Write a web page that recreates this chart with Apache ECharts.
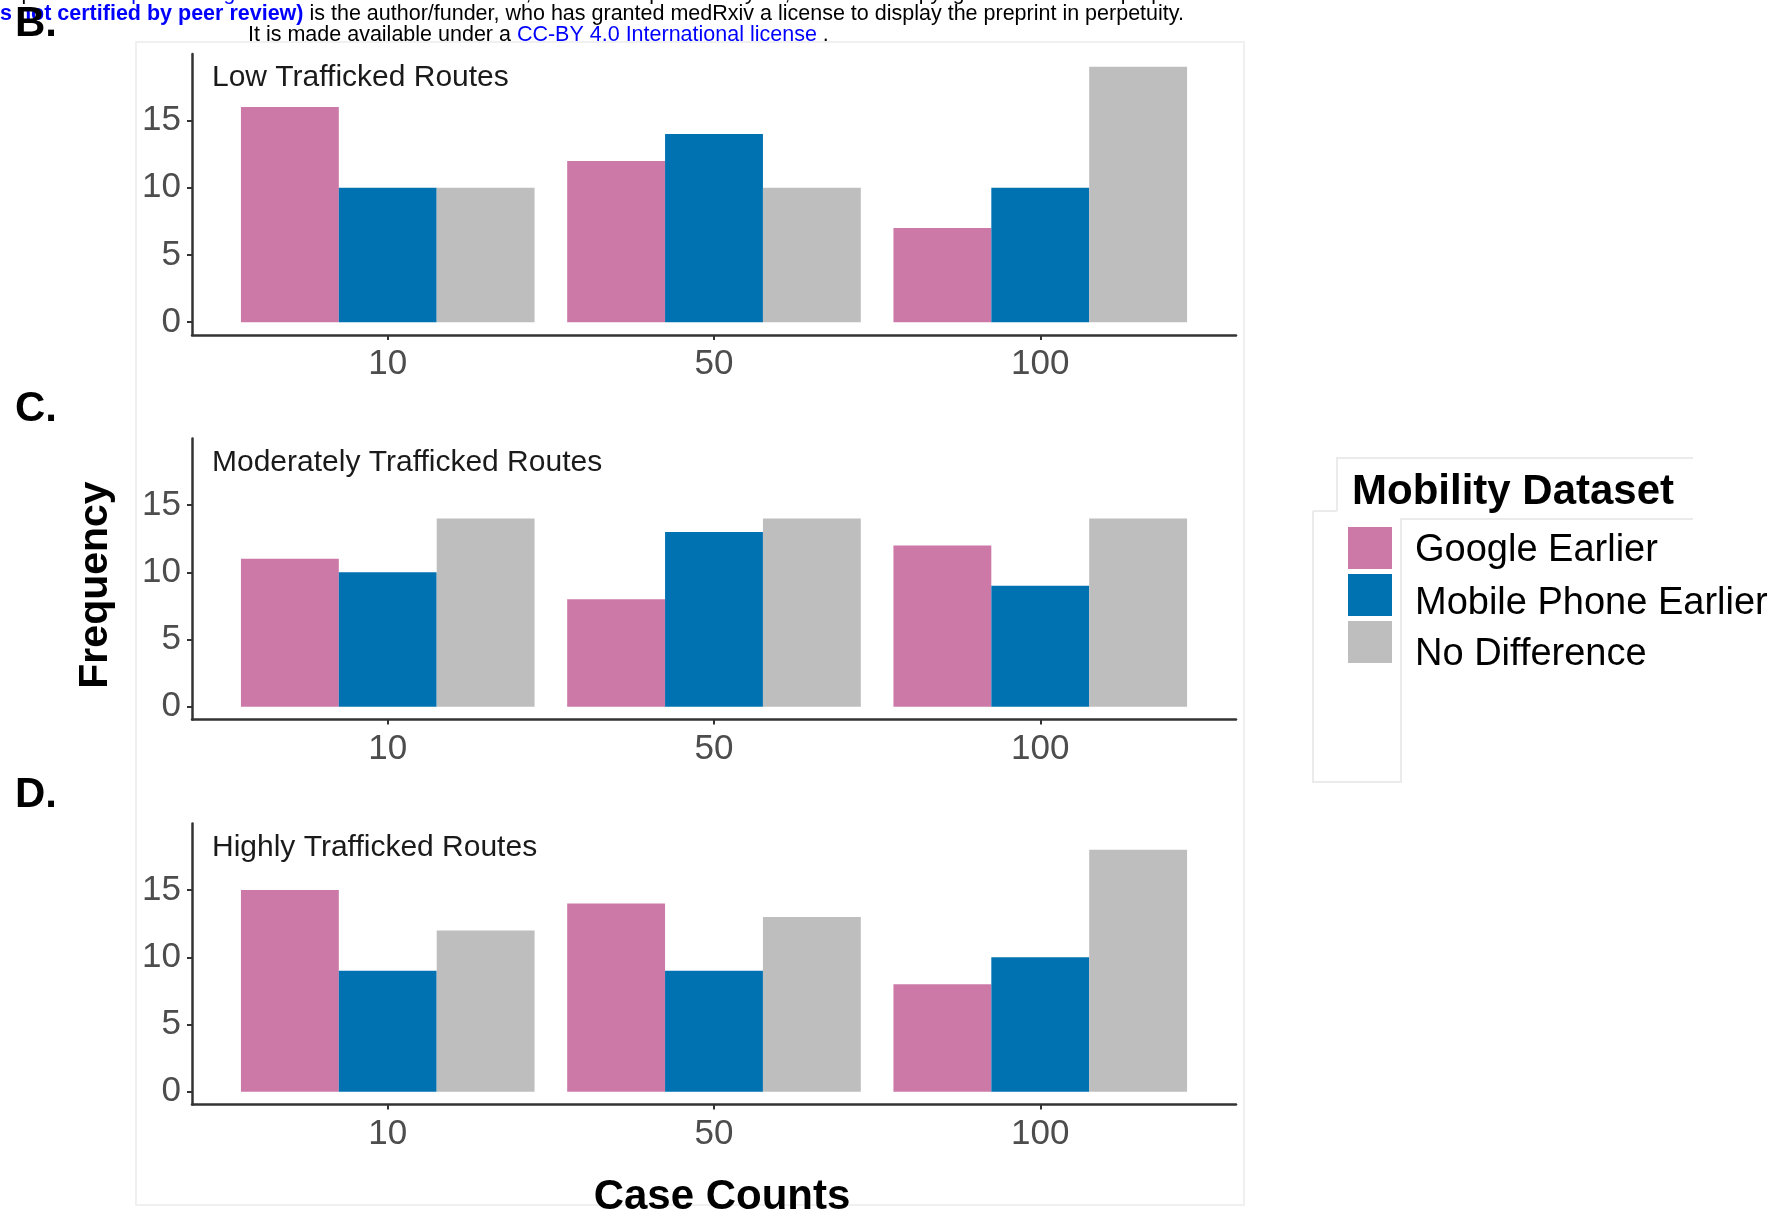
<!DOCTYPE html>
<html>
<head>
<meta charset="utf-8">
<script src="https://cdn.jsdelivr.net/npm/echarts@6/dist/echarts.min.js"></script>
<style>
html,body{margin:0;padding:0;background:#ffffff;}
#chart{width:1787px;height:1218px;}
</style>
</head>
<body>
<div id="chart"></div>
<script>
// ---- data ----
const caseCounts = ['10', '50', '100'];
const datasetNames = ['Google Earlier', 'Mobile Phone Earlier', 'No Difference'];
const panelTitles = ['Low Trafficked Routes', 'Moderately Trafficked Routes', 'Highly Trafficked Routes'];
const panelLetters = ['B.', 'C.', 'D.'];

const lowGoogle = [16, 12, 7];
const lowMobile = [10, 14, 10];
const lowNoDiff = [10, 10, 19];

const modGoogle = [11, 8, 12];
const modMobile = [10, 13, 9];
const modNoDiff = [14, 14, 14];

const highGoogle = [15, 14, 8];
const highMobile = [9, 9, 10];
const highNoDiff = [12, 13, 18];

const yTickValues = [0, 5, 10, 15];

// ---- styling ----
const colors = ['#CC79A7', '#0072B2', '#BEBEBE'];
const FONT = '"Liberation Sans", Arial, Helvetica, sans-serif';
const gridTops = [54, 438.5, 823.5];
const gridLeft = 192, gridWidth = 1044, gridHeight = 281;
const letterY = [24, 409, 795];
const legendKeyTops = [529, 576, 623];
const legendTextShift = [6, 17, 25];

const panels = [
  [lowGoogle, lowMobile, lowNoDiff],
  [modGoogle, modMobile, modNoDiff],
  [highGoogle, highMobile, highNoDiff]
];
const xPos = caseCounts.map((c, i) => i + 1);

const grids = gridTops.map(t => ({ left: gridLeft, top: t, width: gridWidth, height: gridHeight, containLabel: false }));

const xAxes = gridTops.map((t, i) => ({
  type: 'value', gridIndex: i, min: 0.4, max: 3.6,
  splitLine: { show: false },
  axisLine: { show: true, onZero: false, lineStyle: { color: '#333333', width: 2.5 } },
  axisTick: { show: true, length: 5, customValues: xPos, lineStyle: { color: '#333333', width: 2 } },
  axisLabel: {
    customValues: xPos,
    formatter: v => caseCounts[Math.round(v) - 1],
    fontSize: 35, color: '#4d4d4d', margin: 12, fontFamily: FONT
  }
}));

const yAxes = gridTops.map((t, i) => ({
  type: 'value', gridIndex: i, min: -0.95, max: 19.95,
  splitLine: { show: false },
  axisLine: { show: true, onZero: false, lineStyle: { color: '#333333', width: 2.5 } },
  axisTick: { show: true, length: 5, customValues: yTickValues, lineStyle: { color: '#333333', width: 2 } },
  axisLabel: {
    customValues: yTickValues,
    fontSize: 35, color: '#4d4d4d', margin: 11, fontFamily: FONT
  }
}));

const series = [];
panels.forEach((panel, p) => {
  panel.forEach((vals, d) => {
    series.push({
      type: 'bar',
      name: datasetNames[d],
      xAxisIndex: p, yAxisIndex: p,
      data: xPos.map((x, i) => [x, vals[i]]),
      barWidth: '30%',
      barGap: '0%',
      itemStyle: { color: colors[d] },
      emphasis: { disabled: true },
      silent: true
    });
  });
});

const titles = panelTitles.map((t, i) => ({
  text: t, left: 212, top: gridTops[i] + 24 - 15, padding: 0,
  textStyle: { fontSize: 30, fontWeight: 'normal', color: '#1a1a1a', fontFamily: FONT }
}));

const legends = datasetNames.map((name, i) => ({
  data: [name],
  orient: 'vertical',
  left: 1348, top: legendKeyTops[i] - legendTextShift[i] / 2,
  itemWidth: 44, itemHeight: 42,
  icon: 'rect',
  selectedMode: false,
  padding: 0,
  formatter: n => '{g|}{t|' + n + '}',
  textStyle: {
    fontSize: 38, color: '#000000', fontFamily: FONT, lineHeight: 42,
    rich: {
      g: { width: 18, lineHeight: 42 },
      t: { fontSize: 38, color: '#000000', fontFamily: FONT, lineHeight: 42, padding: [legendTextShift[i], 0, 0, 0] }
    }
  }
}));

const lightBorder = '#ebebeb';
const graphics = [
  { type: 'rect', silent: true, z: -10, shape: { x: 136, y: 42, width: 1108, height: 1163 },
    style: { fill: 'none', stroke: '#f0f0f0', lineWidth: 2 } },
  // legend background borders
  { type: 'polyline', silent: true, z: -10, shape: { points: [[1337, 511], [1337, 458], [1693, 458]] },
    style: { fill: 'none', stroke: lightBorder, lineWidth: 2 } },
  { type: 'polyline', silent: true, z: -10, shape: { points: [[1313, 511], [1337, 511]] },
    style: { fill: 'none', stroke: lightBorder, lineWidth: 2 } },
  { type: 'polyline', silent: true, z: -10, shape: { points: [[1313, 511], [1313, 782], [1401, 782], [1401, 519], [1693, 519]] },
    style: { fill: 'none', stroke: lightBorder, lineWidth: 2 } },
  // header lines
  { type: 'text', silent: true, x: 1192, y: -5.5, style: {
      text: '{n|preprint doi: }{l|https://doi.org/10.1101/2020.07.20.20157917}{n|; this version posted July 22, 2020. The copyright holder for this preprint}',
      align: 'right', verticalAlign: 'middle',
      rich: { n: { fill: '#000000', fontSize: 21, fontFamily: FONT }, l: { fill: '#0000ff', fontSize: 21, fontFamily: FONT } } } },
  { type: 'text', silent: true, x: 0, y: 14, style: {
      text: '{b|s not certified by peer review)}{n| is the author/funder, who has granted medRxiv a license to display the preprint in perpetuity.}',
      align: 'left', verticalAlign: 'middle',
      rich: { n: { fill: '#000000', fontSize: 21.5, fontFamily: FONT }, b: { fill: '#0000ff', fontSize: 21.5, fontWeight: 'bold', fontFamily: FONT } } } },
  { type: 'text', silent: true, x: 248, y: 35.5, style: {
      text: '{n|It is made available under a }{l|CC-BY 4.0 International license}{n| .}',
      align: 'left', verticalAlign: 'middle',
      rich: { n: { fill: '#000000', fontSize: 21.5, fontFamily: FONT }, l: { fill: '#0000ff', fontSize: 21.5, fontFamily: FONT } } } },
  // axis titles
  { type: 'text', silent: true, x: 96, y: 585, rotation: Math.PI / 2, style: {
      text: 'Frequency', align: 'center', verticalAlign: 'middle',
      fill: '#000000', fontSize: 41, fontWeight: 'bold', fontFamily: FONT } },
  { type: 'text', silent: true, x: 722, y: 1197, style: {
      text: 'Case Counts', align: 'center', verticalAlign: 'middle',
      fill: '#000000', fontSize: 42, fontWeight: 'bold', fontFamily: FONT } },
  // legend title
  { type: 'text', silent: true, x: 1352, y: 492, style: {
      text: 'Mobility Dataset', align: 'left', verticalAlign: 'middle',
      fill: '#000000', fontSize: 42, fontWeight: 'bold', fontFamily: FONT } }
];
panelLetters.forEach((l, i) => {
  graphics.push({ type: 'text', silent: true, x: 15, y: letterY[i], style: {
    text: l, align: 'left', verticalAlign: 'middle',
    fill: '#000000', fontSize: 42, fontWeight: 'bold', fontFamily: FONT } });
});

const option = {
  animation: false,
  backgroundColor: '#ffffff',
  title: titles,
  grid: grids,
  xAxis: xAxes,
  yAxis: yAxes,
  legend: legends,
  graphic: graphics,
  series: series
};

const chart = echarts.init(document.getElementById('chart'), null, { renderer: 'canvas' });
chart.setOption(option);
</script>
</body>
</html>
